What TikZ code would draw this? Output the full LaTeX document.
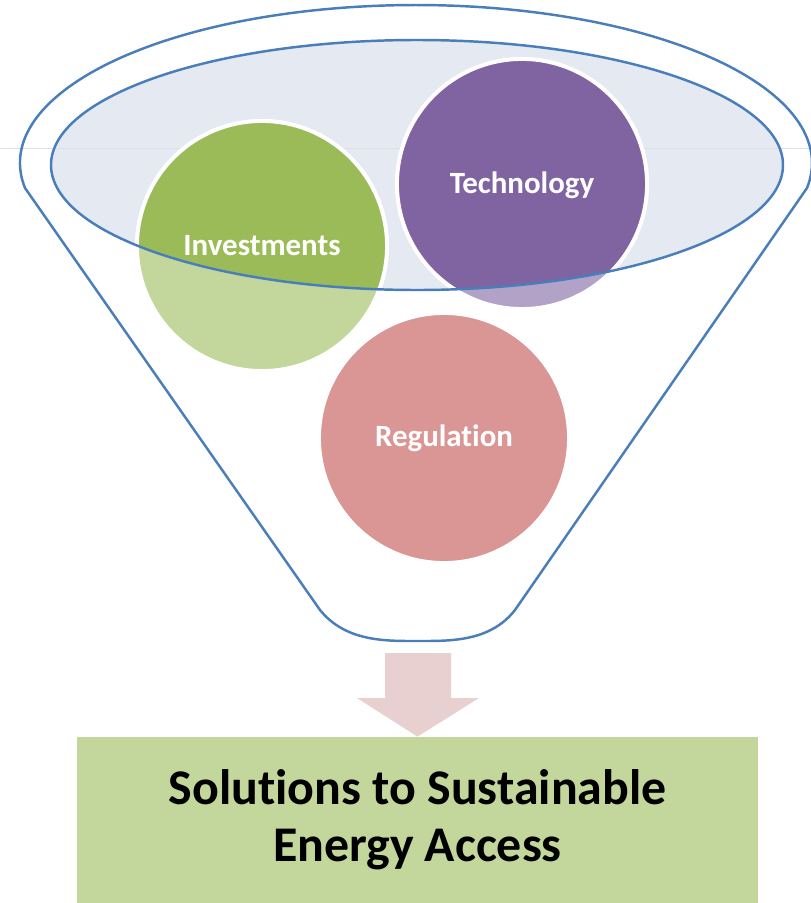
\documentclass[tikz,border=0pt]{standalone}
\usepackage{fontspec}
\setmainfont{Carlito}[Ligatures={NoCommon,NoContextual,NoRare}]
\definecolor{funnelblue}{HTML}{4A7EBB}
\definecolor{bowlfill}{HTML}{E4E9F2}
\definecolor{greendk}{HTML}{9BBB59}
\definecolor{greenlt}{HTML}{C3D69B}
\definecolor{purpledk}{HTML}{8064A2}
\definecolor{purplelt}{HTML}{B2A2C7}
\definecolor{redlt}{HTML}{D99694}
\definecolor{arrowpink}{HTML}{E8D0D1}
\definecolor{rulegrey}{HTML}{DEDEE4}
\begin{document}
\begin{tikzpicture}[x=0.02cm,y=-0.02cm,
    bubbletext/.style={text=white,font=\fontsize{17.6}{20}\selectfont\bfseries},
    goalbox/.style={fill=greenlt,minimum width=13.62cm,minimum height=3.32cm,
        align=center,font=\fontsize{28.4}{32.3}\selectfont\bfseries}]
    \useasboundingbox (0,0) rectangle (811,903);
    % bowl of the funnel
    \fill[bowlfill] (417,165) ellipse (366 and 125);
    \draw[rulegrey,line width=0.55pt] (0,148) -- (811,148);
    \draw[funnelblue,line width=1.4pt] (25,188) arc[start angle=170.9,end angle=369.1,x radius=396,y radius=158]
        -- (515,610) .. controls (490,642) and (450,641) .. (418,641)
        .. controls (386,641) and (346,642) .. (320,610) -- cycle;
    % circles, pale outside the bowl
    \foreach \cx/\cy/\col in {262/246/greenlt, 522/184/purplelt, 444/438/redlt}
      \filldraw[fill=\col,draw=white,line width=2.2pt] (\cx,\cy) circle (125);
    \begin{scope}
      \clip (417,165) ellipse (366 and 125);
      \foreach \cx/\cy/\col in {262/246/greendk, 522/184/purpledk}
        \filldraw[fill=\col,draw=white,line width=2.2pt] (\cx,\cy) circle (125);
    \end{scope}
    \draw[funnelblue,line width=1.4pt] (417,165) ellipse (366 and 125);
    \node[bubbletext] (invest) at (262,246) {Investments};
    \node[bubbletext] (tech) at (522,185) {Technology};
    \node[bubbletext] (regul) at (444,438) {Regulation};
    % result
    \node[goalbox] (goal) at (417.5,820) {Solutions to Sustainable\\Energy Access};
    \fill[arrowpink] (385,653) -- (451,653) -- (451,698) -- (479,698) -- (goal.north)
        -- (357,698) -- (385,698) -- cycle;
\end{tikzpicture}
\end{document}
